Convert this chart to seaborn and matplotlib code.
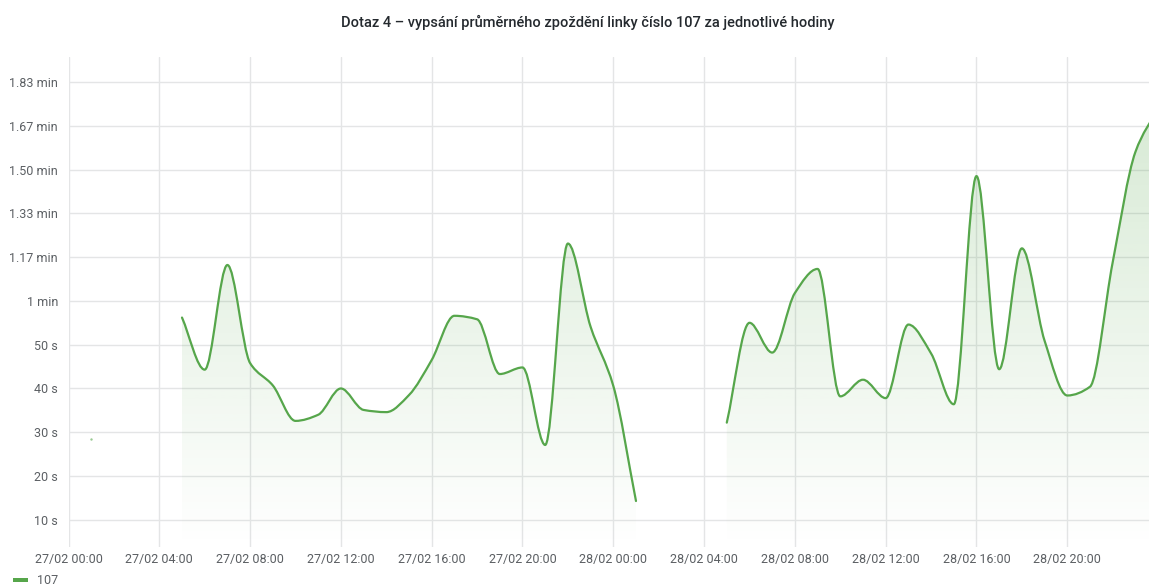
import numpy as np
import pandas as pd
import matplotlib
matplotlib.use("Agg")
import matplotlib.pyplot as plt
import seaborn as sns
from matplotlib.path import Path
from matplotlib.patches import PathPatch, Rectangle
from matplotlib.ticker import FuncFormatter, FixedLocator

nan = np.nan

# Hours since 27/02 00:00, average delay of line 107 in seconds (gaps = no data)
hours = list(range(0, 49))
delay_s = [nan, 28.5, nan, nan, nan, 56.2, 44.3, 68.2, 45.8, 40.7,
           32.6, 34.0, 40.0, 35.1, 34.6, 38.5, 46.5, 56.6, 55.8, 43.3,
           44.8, 27.1, 73.1, 54.1, 40.6, 14.3, nan, nan, nan, 32.2,
           55.0, 48.2, 61.8, 67.3, 38.2, 42.0, 37.8, 54.6, 48.0, 36.4,
           88.5, 44.4, 72.0, 50.9, 38.4, 40.4, 68.8, 94.0, 104.0]

tick_hours = [0, 4, 8, 12, 16, 20, 24, 28, 32, 36, 40, 44]
tick_labels = ["27/02 00:00", "27/02 04:00", "27/02 08:00", "27/02 12:00",
               "27/02 16:00", "27/02 20:00", "28/02 00:00", "28/02 04:00",
               "28/02 08:00", "28/02 12:00", "28/02 16:00", "28/02 20:00"]
y_ticks = [10, 20, 30, 40, 50, 60, 70, 80, 90, 100, 110]

title = "Dotaz 4 – vypsání průměrného zpoždění linky číslo 107 za jednotlivé hodiny"
series_name = "107"

green = "#56A64B"
text_col = "#5b5f63"

df = pd.DataFrame({"hour": hours, "delay": delay_s})

sns.set_theme(style="whitegrid", rc={"grid.color": "#e4e5e6", "grid.linewidth": 1.0})
plt.rcParams["font.family"] = ["Roboto", "DejaVu Sans"]

W, H = 1149, 585
fig = plt.figure(figsize=(W / 100, H / 100), dpi=100)
ax = fig.add_axes([68.5 / W, 1 - 547 / H, (W - 68.5) / W, (547 - 57) / H])

x_lim = (0, 47.6)
y_lim = (3.8, 115.7)


def smooth_path(xs, ys):
    # monotone cubic bezier, same idea as the "smooth" line mode of the dashboard
    n = len(xs)
    dx = np.diff(xs)
    m = np.diff(ys) / dx
    t = np.zeros(n)
    t[0], t[-1] = m[0], m[-1]
    for i in range(1, n - 1):
        if m[i] == 0 or m[i - 1] == 0 or (m[i - 1] > 0) != (m[i] > 0):
            t[i] = 0
        else:
            t[i] = 3 * (dx[i - 1] + dx[i]) / ((2 * dx[i] + dx[i - 1]) / m[i - 1]
                                              + (dx[i] + 2 * dx[i - 1]) / m[i])
    verts = [(xs[0], ys[0])]
    codes = [Path.MOVETO]
    for i in range(n - 1):
        verts += [(xs[i] + dx[i] / 3, ys[i] + t[i] * dx[i] / 3),
                  (xs[i + 1] - dx[i] / 3, ys[i + 1] - t[i + 1] * dx[i] / 3),
                  (xs[i + 1], ys[i + 1])]
        codes += [Path.CURVE4] * 3
    return verts, codes


# split the series into runs without gaps
valid = df["delay"].notna()
run_id = (valid != valid.shift()).cumsum()
runs = [g for _, g in df[valid].groupby(run_id[valid])]

grad = np.zeros((256, 1, 4))
grad[..., :3] = matplotlib.colors.to_rgb(green)
grad[:, 0, 3] = np.linspace(0.0, 0.26, 256)

for g in runs:
    xs = g["hour"].to_numpy(float)
    ys = g["delay"].to_numpy(float)
    if len(xs) == 1:
        sns.scatterplot(data=g, x="hour", y="delay", ax=ax, s=3, color=green,
                        alpha=0.6, linewidth=0, zorder=4)
        continue
    verts, codes = smooth_path(xs, ys)
    fverts = verts + [(xs[-1], y_lim[0]), (xs[0], y_lim[0]), (xs[0], ys[0])]
    fcodes = codes + [Path.LINETO, Path.LINETO, Path.CLOSEPOLY]
    fill = PathPatch(Path(fverts, fcodes), facecolor="none", edgecolor="none")
    ax.add_patch(fill)
    im = ax.imshow(grad, extent=[x_lim[0], x_lim[1], y_lim[0], y_lim[1]],
                   origin="lower", aspect="auto", interpolation="bilinear", zorder=2)
    im.set_clip_path(fill)
    ax.add_patch(PathPatch(Path(verts, codes), facecolor="none", edgecolor=green,
                           linewidth=1.6, zorder=3, capstyle="round", joinstyle="round"))

ax.set_xlim(*x_lim)
ax.set_ylim(*y_lim)


def fmt_delay(v, pos):
    if v < 60:
        return f"{v:.0f} s"
    if v % 60 == 0:
        return f"{v / 60:.0f} min"
    return f"{v / 60:.2f} min"


ax.xaxis.set_major_locator(FixedLocator(tick_hours))
ax.set_xticklabels(tick_labels)
ax.yaxis.set_major_locator(FixedLocator(y_ticks))
ax.yaxis.set_major_formatter(FuncFormatter(fmt_delay))
ax.tick_params(axis="x", length=0, pad=4, labelsize=9, labelcolor=text_col)
ax.tick_params(axis="y", length=0, pad=7.5, labelsize=9, labelcolor=text_col)
ax.set_xlabel("")
ax.set_ylabel("")
for s in ax.spines.values():
    s.set_visible(False)
ax.grid(True, color="#e4e5e6", linewidth=1.0)
ax.set_axisbelow(True)

fig.text(588 / W, 1 - 22 / H, title, ha="center", va="center", fontsize=10.5,
         fontweight="medium", color="#24292e")

# legend below the plot
fig.add_artist(Rectangle((13 / W, 1 - 582 / H), 15 / W, 4 / H, transform=fig.transFigure,
                         facecolor=green, edgecolor="none"))
fig.text(37 / W, 1 - 580 / H, series_name, ha="left", va="center", fontsize=9,
         color=text_col)

fig.savefig("out.png", dpi=100)
